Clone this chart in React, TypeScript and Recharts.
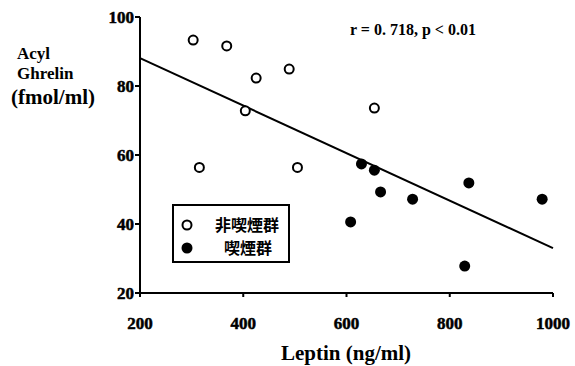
import React from "react";
import {
  ScatterChart,
  Scatter,
  XAxis,
  YAxis,
  ReferenceLine,
  Customized,
} from "recharts";

// Non-smokers (open circles): leptin ng/ml vs acyl ghrelin fmol/ml
const nonSmokerLeptin = [303, 315, 368, 404, 425, 489, 505, 654];
const nonSmokerGhrelin = [93.3, 56.4, 91.6, 72.8, 82.3, 84.9, 56.4, 73.6];

// Smokers (filled circles)
const smokerLeptin = [608, 629, 654, 666, 728, 829, 837, 979];
const smokerGhrelin = [40.6, 57.4, 55.6, 49.3, 47.2, 27.8, 51.9, 47.2];

// Regression line endpoints
const fitX = [200, 1000];
const fitY = [88.1, 33.0];

const xTicks = [200, 400, 600, 800, 1000];
const yTicks = [20, 40, 60, 80, 100];

const legendLabels = ["非喫煙群", "喫煙群"];
const statText = "r = 0. 718, p < 0.01";

const nonSmokers = nonSmokerLeptin.map((x, i) => ({ x, y: nonSmokerGhrelin[i] }));
const smokers = smokerLeptin.map((x, i) => ({ x, y: smokerGhrelin[i] }));

const SERIF = "'Liberation Serif', 'DejaVu Serif', serif";
const CJK = "'Noto Sans CJK JP', 'Noto Sans CJK SC', sans-serif";

const OpenDot = (props: any) => (
  <circle cx={props.cx} cy={props.cy} r={4.5} fill="#fff" stroke="#000" strokeWidth={2} />
);
const FilledDot = (props: any) => (
  <circle cx={props.cx} cy={props.cy} r={5.5} fill="#000" />
);

// heavy serif numerals for both axes
const XTick = ({ x, y, payload }: any) => (
  <text x={x} y={y + 30} textAnchor="middle" fontFamily={SERIF} fontWeight="bold" fontSize={17}
    fill="#000" stroke="#000" strokeWidth={0.5}>
    {payload.value}
  </text>
);

const YTick = ({ x, y, payload }: any) => (
  <text x={x + 1} y={y + 6} textAnchor="end" fontFamily={SERIF} fontWeight="bold" fontSize={17}
    fill="#000" stroke="#000" strokeWidth={0.5}>
    {payload.value}
  </text>
);

const Annotations = () => (
  <g fill="#000">
    <text x={413} y={35} textAnchor="middle" fontFamily={SERIF} fontWeight="bold" fontSize={16}>
      {statText}
    </text>
    <text x={17} y={59} fontFamily={SERIF} fontWeight="bold" fontSize={17}>Acyl</text>
    <text x={17} y={79} fontFamily={SERIF} fontWeight="bold" fontSize={17}>Ghrelin</text>
    <text x={11} y={104} fontFamily={SERIF} fontWeight="bold" fontSize={21}>(fmol/ml)</text>
    <text x={346} y={360} textAnchor="middle" fontFamily={SERIF} fontWeight="bold" fontSize={21}>
      Leptin (ng/ml)
    </text>
    {/* legend box */}
    <rect x={173} y={205} width={116} height={57} fill="#fff" stroke="#000" strokeWidth={2} />
    <circle cx={187} cy={225} r={4.5} fill="#fff" stroke="#000" strokeWidth={2} />
    <circle cx={187} cy={248} r={5.5} fill="#000" />
    <text x={247} y={231} textAnchor="middle" fontFamily={CJK} fontWeight="bold" fontSize={16}>
      {legendLabels[0]}
    </text>
    <text x={248} y={254} textAnchor="middle" fontFamily={CJK} fontWeight="bold" fontSize={16}>
      {legendLabels[1]}
    </text>
  </g>
);

export default function App() {
  return (
    <div style={{ position: "absolute", left: 0, top: 0, background: "#fff" }}>
      <ScatterChart
        width={575}
        height={366}
        margin={{ top: 17, right: 22, bottom: 43, left: 100 }}
      >
        <XAxis
          type="number"
          dataKey="x"
          domain={[200, 1000]}
          ticks={xTicks}
          height={30}
          axisLine={{ stroke: "#000", strokeWidth: 2 }}
          tickLine={{ stroke: "#000", strokeWidth: 2 }}
          tickSize={4}
          tick={XTick}
          interval={0}
        />
        <YAxis
          type="number"
          dataKey="y"
          domain={[20, 100]}
          ticks={yTicks}
          width={40}
          axisLine={{ stroke: "#000", strokeWidth: 2 }}
          tickLine={{ stroke: "#000", strokeWidth: 2 }}
          tickSize={5}
          tick={YTick}
          interval={0}
        />
        <ReferenceLine
          segment={[
            { x: fitX[0], y: fitY[0] },
            { x: fitX[1], y: fitY[1] },
          ]}
          stroke="#000"
          strokeWidth={2}
          ifOverflow="visible"
        />
        <Scatter data={nonSmokers} shape={OpenDot} isAnimationActive={false} />
        <Scatter data={smokers} shape={FilledDot} isAnimationActive={false} />
        <Customized component={Annotations} />
      </ScatterChart>
    </div>
  );
}
